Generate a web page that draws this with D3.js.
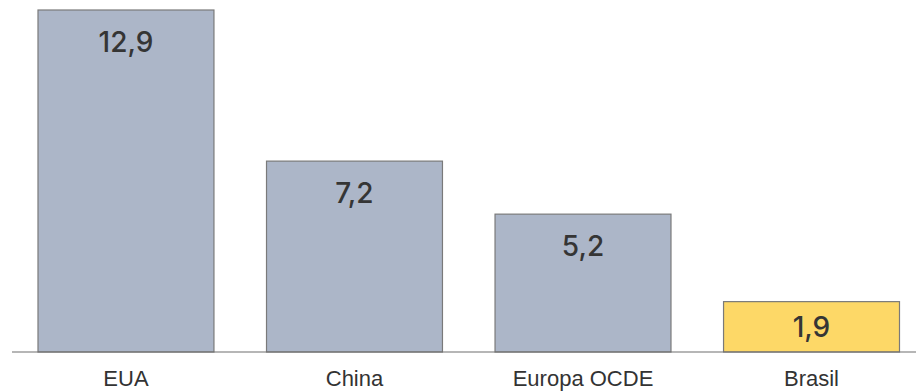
<!DOCTYPE html>
<html>
<head>
<meta charset="utf-8">
<script src="https://cdn.jsdelivr.net/npm/d3@7"></script>
<style>
  html, body { margin: 0; padding: 0; background: #fff; }
</style>
</head>
<body>
<svg id="chart" width="916" height="391"></svg>
<script>
const categories = ["EUA", "China", "Europa OCDE", "Brasil"];
const values = [12.9, 7.2, 5.2, 1.9];
const valueLabels = ["12,9", "7,2", "5,2", "1,9"];
const highlight = ["Brasil"];

const svg = d3.select("#chart");
const baseline = 352;

const x = d3.scaleBand()
  .domain(categories)
  .range([38, 899.5])
  .paddingInner(0.23)
  .paddingOuter(0);

const y = d3.scaleLinear()
  .domain([0, 12.9])
  .range([baseline, 10]);

const data = categories.map((c, i) => ({ c, v: values[i], label: valueLabels[i] }));

svg.selectAll("rect.bar")
  .data(data)
  .join("rect")
  .attr("class", "bar")
  .attr("x", d => x(d.c))
  .attr("y", d => y(d.v))
  .attr("width", x.bandwidth())
  .attr("height", d => baseline - y(d.v))
  .attr("fill", d => highlight.includes(d.c) ? "#fdd867" : "#acb6c8")
  .attr("stroke", "#7a7a7a")
  .attr("stroke-width", 1.2);

// baseline
svg.append("line")
  .attr("x1", 12).attr("x2", 916)
  .attr("y1", baseline).attr("y2", baseline)
  .attr("stroke", "#6f6f6f")
  .attr("stroke-width", 1.2);

// value labels inside bars
svg.selectAll("text.val")
  .data(data)
  .join("text")
  .attr("class", "val")
  .attr("x", d => x(d.c) + x.bandwidth() / 2)
  .attr("y", d => {
    const top = y(d.v);
    const h = baseline - top;
    return top + Math.min(31, h / 2) + 10.5;
  })
  .attr("text-anchor", "middle")
  .attr("font-family", "Inter, 'Noto Sans', sans-serif")
  .attr("font-size", 28)
  .attr("font-weight", 500)
  .attr("fill", "#353535")
  .text(d => d.label);

// category labels
svg.selectAll("text.cat")
  .data(data)
  .join("text")
  .attr("class", "cat")
  .attr("x", d => x(d.c) + x.bandwidth() / 2)
  .attr("y", 386)
  .attr("text-anchor", "middle")
  .attr("font-family", "'Liberation Sans', Arial, sans-serif")
  .attr("font-size", 22)
  .attr("fill", "#333")
  .text(d => d.c);
</script>
</body>
</html>
